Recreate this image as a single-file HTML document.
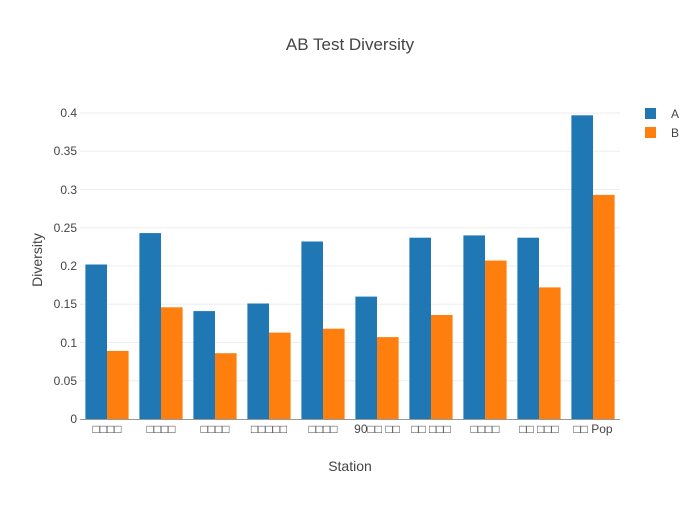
<!DOCTYPE html>
<html><head><meta charset="utf-8"><style>body{margin:0;background:#fff}svg text{font-family:"Liberation Sans","DejaVu Sans",sans-serif;fill:#444}</style></head><body>
<svg width="700" height="500" xmlns="http://www.w3.org/2000/svg">
<text x="350" y="50" text-anchor="middle" font-size="17">AB Test Diversity</text>
<g stroke="#eee" stroke-width="1">
<line x1="80" x2="620" y1="380.8" y2="380.8"/><line x1="80" x2="620" y1="342.5" y2="342.5"/><line x1="80" x2="620" y1="304.3" y2="304.3"/><line x1="80" x2="620" y1="266" y2="266"/><line x1="80" x2="620" y1="227.8" y2="227.8"/><line x1="80" x2="620" y1="189.5" y2="189.5"/><line x1="80" x2="620" y1="151.3" y2="151.3"/><line x1="80" x2="620" y1="113" y2="113"/>
</g>
<g font-size="12" text-anchor="end">
<text x="77" y="423">0</text><text x="77" y="385">0.05</text><text x="77" y="347">0.1</text><text x="77" y="308">0.15</text><text x="77" y="270">0.2</text><text x="77" y="232">0.25</text><text x="77" y="194">0.3</text><text x="77" y="155">0.35</text><text x="77" y="117">0.4</text>
</g>
<g fill="#1f77b4">
<rect x="85.4" y="264.5" width="21.6" height="154.5"/>
<rect x="139.4" y="233.1" width="21.6" height="185.9"/>
<rect x="193.4" y="311.1" width="21.6" height="107.9"/>
<rect x="247.4" y="303.5" width="21.6" height="115.5"/>
<rect x="301.4" y="241.5" width="21.6" height="177.5"/>
<rect x="355.4" y="296.6" width="21.6" height="122.4"/>
<rect x="409.4" y="237.7" width="21.6" height="181.3"/>
<rect x="463.4" y="235.4" width="21.6" height="183.6"/>
<rect x="517.4" y="237.7" width="21.6" height="181.3"/>
<rect x="571.4" y="115.3" width="21.6" height="303.7"/>
</g>
<g fill="#ff7f0e">
<rect x="107" y="350.9" width="21.6" height="68.1"/>
<rect x="161" y="307.3" width="21.6" height="111.7"/>
<rect x="215" y="353.2" width="21.6" height="65.8"/>
<rect x="269" y="332.6" width="21.6" height="86.4"/>
<rect x="323" y="328.7" width="21.6" height="90.3"/>
<rect x="377" y="337.1" width="21.6" height="81.9"/>
<rect x="431" y="315" width="21.6" height="104"/>
<rect x="485" y="260.6" width="21.6" height="158.4"/>
<rect x="539" y="287.4" width="21.6" height="131.6"/>
<rect x="593" y="194.9" width="21.6" height="224.1"/>
</g>
<line x1="80" x2="620" y1="419.5" y2="419.5" stroke="#999"/>
<g font-size="12" text-anchor="middle">
<text x="107" y="433">□□□□</text><text x="161" y="433">□□□□</text><text x="215" y="433">□□□□</text><text x="269" y="433">□□□□□</text><text x="323" y="433">□□□□</text><text x="377" y="433">90□□ □□</text><text x="431" y="433">□□ □□□</text><text x="485" y="433">□□□□</text><text x="539" y="433">□□ □□□</text><text x="593" y="433">□□ Pop</text>
</g>
<text x="350" y="471" text-anchor="middle" font-size="14">Station</text>
<text transform="translate(42,260) rotate(-90)" text-anchor="middle" font-size="14">Diversity</text>
<rect x="645" y="108" width="11" height="11" fill="#1f77b4"/><text x="671" y="118" font-size="12">A</text>
<rect x="645" y="127" width="11" height="11" fill="#ff7f0e"/><text x="671" y="137" font-size="12">B</text>
</svg></body></html>
